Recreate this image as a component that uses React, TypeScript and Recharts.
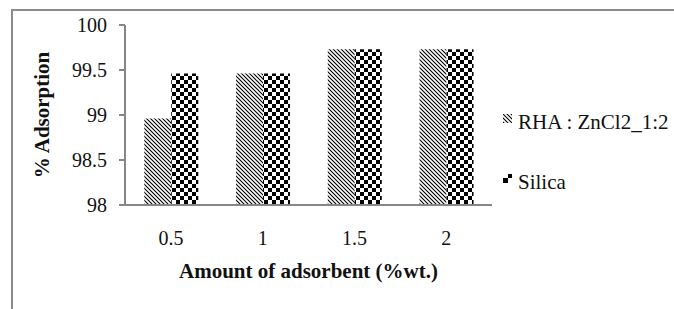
import { BarChart, Bar, XAxis, YAxis } from 'recharts';

const categories = ['0.5', '1', '1.5', '2'];
const rhaValues = [98.96, 99.46, 99.73, 99.73];
const silicaValues = [99.46, 99.46, 99.73, 99.73];
const yTicks = [98, 98.5, 99, 99.5, 100];

const data = categories.map((c, i) => ({ amount: c, rha: rhaValues[i], silica: silicaValues[i] }));

const FONT = 'serif';
const AXIS = '#868686';

function LegendIcon({ fill }: { fill: string }) {
  return (
    <svg width={9} height={9} style={{ marginRight: 6, marginTop: -8 }}>
      <rect x={0} y={0} width={9} height={9} fill={fill} />
    </svg>
  );
}

function LegendBox() {
  return (
    <div style={{ position: 'absolute', left: 503, top: 110, fontSize: 21, color: '#111' }}>
      <div style={{ display: 'flex', alignItems: 'center', height: 24 }}>
        <LegendIcon fill="url(#hatch)" />
        <span>RHA : ZnCl2_1:2</span>
      </div>
      <div style={{ display: 'flex', alignItems: 'center', height: 24, marginTop: 36 }}>
        <LegendIcon fill="url(#checkerSmall)" />
        <span>Silica</span>
      </div>
    </div>
  );
}

export default function App() {
  return (
    <div style={{ position: 'fixed', left: 0, top: 0, width: 674, height: 309, overflow: 'hidden', background: '#fff', fontFamily: FONT }}>
      <div style={{ position: 'absolute', left: 11, top: 9, width: 720, height: 360, border: '2px solid #8c8c8c' }} />
      <div style={{ position: 'absolute', left: 0, top: 0 }}>
        <BarChart width={674} height={309} data={data} margin={{ top: 25, right: 182, left: 65, bottom: 54 }} barCategoryGap="21%" barGap={0} style={{ fontFamily: FONT }}>
          <defs>
            <pattern id="hatch" patternUnits="userSpaceOnUse" width={4} height={4}>
              <rect width={4} height={4} fill="#fff" />
              <path d="M-1,-1 L5,5 M-1,3 L1,5 M3,-1 L5,1" stroke="#000" strokeWidth={1.1} />
            </pattern>
            <pattern id="checker" patternUnits="userSpaceOnUse" width={8} height={8}>
              <rect width={8} height={8} fill="#fff" />
              <rect x={0} y={0} width={4} height={4} fill="#000" />
              <rect x={4} y={4} width={4} height={4} fill="#000" />
            </pattern>
            <pattern id="checkerSmall" patternUnits="userSpaceOnUse" width={9} height={9}>
              <rect width={9} height={9} fill="#fff" />
              <rect x={0} y={4} width={5} height={5} fill="#000" />
              <rect x={5} y={0} width={4} height={4} fill="#000" />
            </pattern>
          </defs>
          <XAxis
            dataKey="amount"
            height={50}
            stroke={AXIS}
            strokeWidth={2}
            tickLine={false}
            tickSize={0}
            tickMargin={26}
            tick={{ fontSize: 20, fill: '#111' }}
            label={{ value: 'Amount of adsorbent (%wt.)', position: 'bottom', offset: 8, style: { fontSize: 21, fontWeight: 'bold', fill: '#111' } }}
          />
          <YAxis
            width={60}
            domain={[98, 100]}
            ticks={yTicks}
            allowDataOverflow
            stroke={AXIS}
            strokeWidth={2}
            tickSize={6}
            tickMargin={12}
            tick={{ fontSize: 20, fill: '#111' }}
            label={{ value: '% Adsorption', angle: -90, position: 'center', dx: -53, style: { fontSize: 21, fontWeight: 'bold', fill: '#111', textAnchor: 'middle' } }}
          />
          <Bar dataKey="rha" name="RHA : ZnCl2_1:2" fill="url(#hatch)" isAnimationActive={false} />
          <Bar dataKey="silica" name="Silica" fill="url(#checker)" isAnimationActive={false} />
        </BarChart>
      </div>
      <LegendBox />
    </div>
  );
}
